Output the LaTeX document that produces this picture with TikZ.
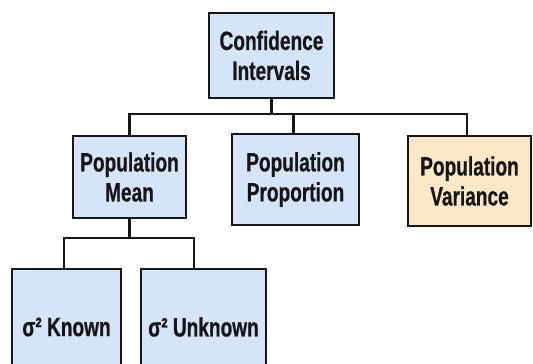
\documentclass[tikz,border=0pt]{standalone}
\usepackage{fontspec}
\setmainfont{Liberation Sans}[FakeStretch=0.72, BoldFeatures={FakeBold=0.6}]
\definecolor{boxblue}{RGB}{214,228,250}
\definecolor{boxorange}{RGB}{252,232,198}
\definecolor{ink}{RGB}{22,22,22}
\begin{document}
\begin{tikzpicture}[x=1pt,y=-1pt,
  box/.style={draw=ink, line width=2.6pt, fill=boxblue, inner sep=0pt,
    align=center, text=ink, font=\fontsize{26.5}{30}\selectfont\bfseries},
  link/.style={draw=ink, line width=2.8pt}]
\useasboundingbox (0,0) rectangle (533,364);
\clip (0,0) rectangle (533,364);
\node[box, minimum width=125pt, minimum height=85pt] (ci) at (271.5,55.5) {Confidence\\Intervals};
\node[box, minimum width=113pt, minimum height=82pt] (mean) at (129.5,177) {Population\\Mean};
\node[box, minimum width=127pt, minimum height=91pt] (prop) at (295.5,179.5) {Population\\Proportion};
\node[box, fill=boxorange, minimum width=123pt, minimum height=90pt] (var) at (469.5,181) {Population\\Variance};
\node[box, minimum width=109pt, minimum height=116pt] (known) at (66.5,327) {σ² Known};
\node[box, minimum width=125pt, minimum height=116pt] (unk) at (203.5,327) {σ² Unknown};
\coordinate (bus) at (270,114);
\coordinate (bus2) at (129,238);
\draw[link] (ci.south) -- (ci.south |- bus) -| (mean.north);
\draw[link] (ci.south |- bus) -| ([xshift=-2pt]prop.north);
\draw[link] (ci.south |- bus) -| ([xshift=-2.5pt]var.north);
\draw[link] (mean.south) -- (mean.south |- bus2) -| ([xshift=-2.5pt]known.north);
\draw[link] (mean.south |- bus2) -| ([xshift=-9.5pt]unk.north);
\end{tikzpicture}
\end{document}
